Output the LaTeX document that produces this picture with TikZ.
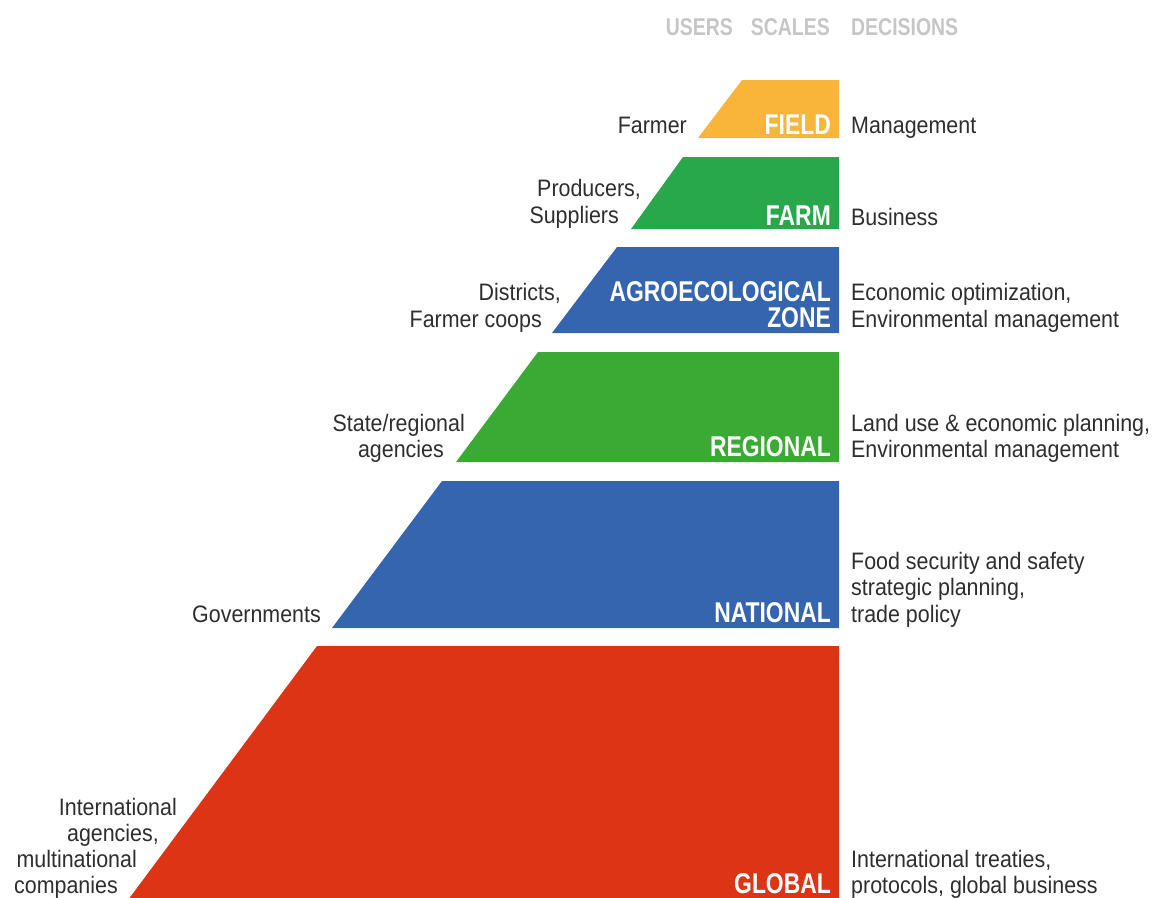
\documentclass[tikz,border=0pt]{standalone}
\usepackage{fontspec}
\setmainfont{Liberation Sans}[FakeStretch=0.9]
\newfontfamily\hdfont{Liberation Sans Bold}[FakeStretch=0.8]
\definecolor{cfield}{HTML}{F9B43A}
\definecolor{cfarm}{HTML}{29A84B}
\definecolor{cblue}{HTML}{3465AE}
\definecolor{cregion}{HTML}{3BAA35}
\definecolor{cglobal}{HTML}{DD3415}
\definecolor{ctext}{HTML}{2E2E2E}
\definecolor{chead}{HTML}{C6C6C6}
\tikzset{
  txt/.style={inner sep=0pt, text=ctext, font=\fontsize{23.8}{26}\selectfont},
  usr/.style={txt, anchor=base east},
  dec/.style={txt, anchor=base west},
  scl/.style={inner sep=0pt, text=white, anchor=base east, font=\hdfont\fontsize{28.6}{26}\selectfont},
  hd/.style={inner sep=0pt, text=chead, font=\hdfont\fontsize{24.3}{26}\selectfont},
}
\begin{document}
\begin{tikzpicture}[x=1pt,y=-1pt]
\useasboundingbox (0,0) rectangle (1153,897);
% header
\node[hd, anchor=base east] (hu) at (733,35) {USERS};
\node[hd, anchor=base east] (hs) at (830,35) {SCALES};
\node[hd, anchor=base west] (hdec) at (851,35) {DECISIONS};
% shapes
\fill[cfield]  (742,80) -- (839,80) -- (839,138) -- (698,138) -- cycle;
\fill[cfarm]   (683,157) -- (839,157) -- (839,229) -- (631,229) -- cycle;
\fill[cblue]   (617,247) -- (839,247) -- (839,333) -- (552,333) -- cycle;
\fill[cregion] (538,352) -- (839,352) -- (839,462) -- (456,462) -- cycle;
\fill[cblue]   (442,481) -- (839,481) -- (839,628) -- (332,628) -- cycle;
\fill[cglobal] (317,646) -- (839,646) -- (839,900) -- (128,900) -- cycle;
% scale labels
\node[scl] (sfield) at (831,134) {FIELD};
\node[scl] (sfarm) at (831,225) {FARM};
\node[scl] (sagro1) at (831,301) {AGROECOLOGICAL};
\node[scl] (sagro2) at (831,327) {ZONE};
\node[scl] (sreg) at (831,456) {REGIONAL};
\node[scl] (snat) at (831,622) {NATIONAL};
\node[scl] (sglob) at (831,893) {GLOBAL};
% users
\node[usr] (u1) at (687,133) {Farmer};
\node[usr] (u2a) at (641,196) {Producers,};
\node[usr] (u2b) at (619,223) {Suppliers};
\node[usr] (u3a) at (561,300) {Districts,};
\node[usr] (u3b) at (542,327) {Farmer coops};
\node[usr] (u4a) at (465,431) {State/regional};
\node[usr] (u4b) at (444,457) {agencies};
\node[usr] (u5) at (321,622) {Governments};
\node[usr] (u6a) at (177,815) {International};
\node[usr] (u6b) at (159,841) {agencies,};
\node[usr] (u6c) at (137,867) {multinational};
\node[usr] (u6d) at (118,893) {companies};
% decisions
\node[dec] (d1) at (851,133) {Management};
\node[dec] (d2) at (851,225) {Business};
\node[dec] (d3a) at (851,300) {Economic optimization,};
\node[dec] (d3b) at (851,327) {Environmental management};
\node[dec] (d4a) at (851,431) {Land use \& economic planning,};
\node[dec] (d4b) at (851,457) {Environmental management};
\node[dec] (d5a) at (851,569) {Food security and safety};
\node[dec] (d5b) at (851,595) {strategic planning,};
\node[dec] (d5c) at (851,622) {trade policy};
\node[dec] (d6a) at (851,867) {International treaties,};
\node[dec] (d6b) at (851,893) {protocols, global business};
\end{tikzpicture}
\end{document}
